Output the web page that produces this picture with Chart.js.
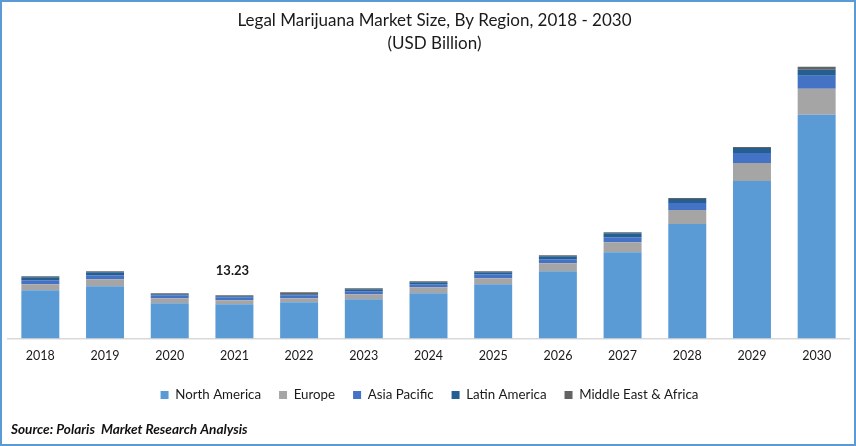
<!DOCTYPE html>
<html>
<head>
<meta charset="utf-8">
<script src="https://cdn.jsdelivr.net/npm/chart.js@4"></script>
<style>
html,body{margin:0;padding:0;background:#fff;overflow:hidden}
#wrap{position:relative;width:856px;height:446px}
#frame{position:absolute;left:0;top:0;width:852px;height:442px;border:2px solid #5B9BD5;pointer-events:none}
canvas{position:absolute;left:0;top:0}
</style>
</head>
<body>
<div id="wrap"><canvas id="c" width="856" height="446"></canvas><div id="frame"></div></div>
<script>
const categories = ['2018','2019','2020','2021','2022','2023','2024','2025','2026','2027','2028','2029','2030'];
const northAmerica = [14.77,16.00,10.77,10.46,11.08,12.00,13.85,16.62,20.62,26.46,35.08,48.31,68.62];
const europe       = [1.85,2.15,1.54,1.23,1.23,1.54,1.85,1.85,2.46,3.08,4.31,5.54,8.00];
const asiaPacific  = [1.23,1.23,0.92,0.92,0.92,0.92,0.92,1.23,1.23,1.54,2.15,3.08,4.00];
const latinAmerica = [0.92,0.92,0.31,0.31,0.31,0.62,0.62,0.62,0.92,1.23,1.23,1.54,1.85];
const middleEast   = [0.31,0.31,0.31,0.31,0.62,0.31,0.31,0.31,0.31,0.31,0.31,0.31,0.92];
const calloutIndex = 3;
const calloutLabel = '13.23';
const titleLines = ['Legal Marijuana Market Size, By Region, 2018 - 2030','(USD Billion)'];
const sourceText = 'Source: Polaris  Market Research Analysis';
const FONT = 'Lato';

const placeBlocks = {
  id:'placeBlocks',
  afterLayout(chart){
    const t = chart.titleBlock;
    if(t){ t.left = 13; t.right = 856; }
    const l = chart.legend;
    if(l){ l.top -= 3; l.bottom -= 3; l.left += 1; l.right += 1; }
    const s = chart.boxes.find(b => b.options && b.options.text === sourceText);
    if(s){ s.left += 3; s.right += 3; }
  }
};
const callout = {
  id:'callout',
  afterDatasetsDraw(chart){
    const {ctx,scales} = chart;
    let total = 0;
    chart.data.datasets.forEach(d => total += d.data[calloutIndex]);
    ctx.save();
    ctx.font = 'bold 13px ' + FONT;
    ctx.fillStyle = '#1a1a1a';
    ctx.textAlign = 'center';
    ctx.textBaseline = 'middle';
    ctx.fillText(calloutLabel, scales.x.getPixelForValue(calloutIndex) - 2, scales.y.getPixelForValue(total) - 24);
    ctx.restore();
  }
};

new Chart(document.getElementById('c'),{
  type:'bar',
  data:{
    labels:categories,
    datasets:[
      {label:'North America',data:northAmerica,backgroundColor:'#5B9BD5'},
      {label:'Europe',data:europe,backgroundColor:'#A5A5A5'},
      {label:'Asia Pacific',data:asiaPacific,backgroundColor:'#4472C4'},
      {label:'Latin America',data:latinAmerica,backgroundColor:'#255E91'},
      {label:'Middle East & Africa',data:middleEast,backgroundColor:'#636363'}
    ]
  },
  plugins:[placeBlocks,callout],
  options:{
    responsive:false,
    animation:false,
    devicePixelRatio:1,
    layout:{padding:{left:8,right:7,top:2,bottom:4}},
    datasets:{bar:{barPercentage:0.587,categoryPercentage:1,borderWidth:0}},
    scales:{
      x:{
        stacked:true,
        grid:{display:false,drawTicks:false},
        border:{color:'#D9D9D9',width:1.5},
        ticks:{color:'#1a1a1a',font:{family:FONT,size:12.5},padding:10,maxRotation:0}
      },
      y:{stacked:true,display:false,min:0,max:85.8}
    },
    plugins:{
      title:{display:true,text:titleLines,color:'#1a1a1a',font:{family:FONT,size:17,weight:'normal',lineHeight:1.35},padding:{top:7,bottom:4}},
      subtitle:{display:true,position:'bottom',align:'start',text:sourceText,color:'#111',font:{family:FONT,size:13.6,weight:'bold',style:'italic'},padding:{top:7,bottom:4,left:9}},
      legend:{display:true,position:'bottom',labels:{color:'#1a1a1a',font:{family:FONT,size:13.3},boxWidth:8,boxHeight:8,padding:18}},
      tooltip:{enabled:false}
    }
  }
});
</script>
</body>
</html>
